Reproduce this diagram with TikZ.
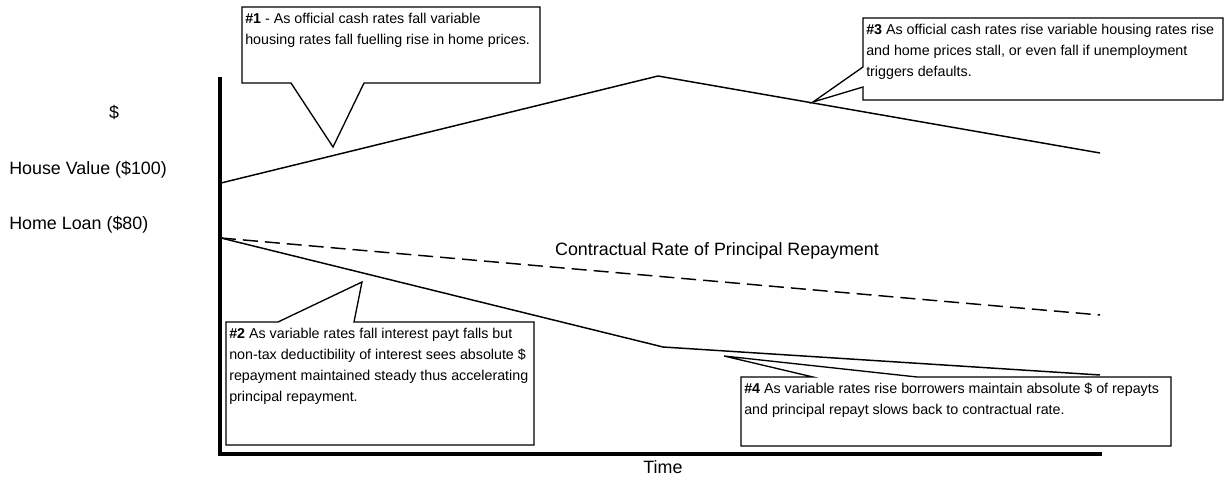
\documentclass[tikz,border=0pt]{standalone}
\usepackage{fontspec}
\setmainfont{Liberation Sans}
\usetikzlibrary{positioning}
\tikzset{
  notetext/.style = {align = left, inner sep = 0pt, anchor = north west, font = \fontsize{10.7}{15.75}\selectfont},
  axistext/.style = {inner sep = 0pt, font = \fontsize{13.4}{16}\selectfont},
  callout/.style  = {draw, fill = white, line width = 1pt, line join = miter},
  trend/.style    = {line width = 1.1pt},
  axis/.style     = {line width = 2.6pt}
}
\def \dashon {11.25pt}
\def \dashoff {5.25pt}

\begin{document}
\begin{tikzpicture}[x = 0.75pt, y = -0.75pt]
\useasboundingbox (0,0) rectangle (1225,478);

% axes
\coordinate (ytop) at (220,77);
\coordinate (origin) at (220,454);
\coordinate (xend) at (1102,454);
\draw[axis] (ytop) -- (origin) -- (xend);

\node (dollar) [axistext] at (114,113) {\$};
\node (house_lbl) [axistext, anchor = west] at (9,170) {House Value (\$100)};
\node (loan_lbl) [axistext, anchor = west] at (9,225) {Home Loan (\$80)};
\node (time_lbl) [axistext] at (663,467) {Time};

% house value
\coordinate (hv_start) at (221,183);
\coordinate (hv_peak) at (658,76);
\coordinate (hv_end) at (1100,153);
\draw[trend] (hv_start) -- (hv_peak) -- (hv_end);

% home loan, actual and contractual
\coordinate (hl_start) at (221,238);
\coordinate (hl_kink) at (663,347);
\coordinate (hl_end) at (1100,375);
\coordinate (cr_end) at (1100,315);
\draw[trend] (hl_start) -- (hl_kink) -- (hl_end);
\draw[trend, dash pattern = on \dashon off \dashoff] (hl_start) -- (cr_end);

\node (contract_lbl) [axistext] at (717,251) {Contractual Rate of Principal Repayment};

% callouts
\coordinate (tip1) at (333,147);
\draw[callout] (242,7) -- (540,7) -- (540,83) -- (364,83) -- (tip1) -- (291,83) -- (242,83) -- cycle;
\node (note1) [notetext] at (245,13) {\textbf{\#1} - As official cash rates fall variable\\housing rates fall fuelling rise in home prices.};

\coordinate (tip2) at (362,282);
\draw[callout] (226,322) -- (278,322) -- (tip2) -- (354,322) -- (534,322) -- (534,445) -- (226,445) -- cycle;
\node (note2) [notetext] at (229,328) {\textbf{\#2} As variable rates fall interest payt falls but\\non-tax deductibility of interest sees absolute \$\\repayment maintained steady thus accelerating\\principal repayment.};

\coordinate (tip3) at (813,102);
\draw[callout] (863,18) -- (1223,18) -- (1223,100) -- (863,100) -- (863,87) -- (tip3) -- (863,67) -- cycle;
\node (note3) [notetext] at (866,24) {\textbf{\#3} As official cash rates rise variable housing rates rise\\and home prices stall, or even fall if unemployment\\triggers defaults.};

\coordinate (tip4) at (724,356);
\draw[callout] (741,377) -- (813,377) -- (tip4) -- (917,377) -- (1171,377) -- (1171,446) -- (741,446) -- cycle;
\node (note4) [notetext] at (744,383) {\textbf{\#4} As variable rates rise borrowers maintain absolute \$ of repayts\\and principal repayt slows back to contractual rate.};

\end{tikzpicture}
\end{document}
